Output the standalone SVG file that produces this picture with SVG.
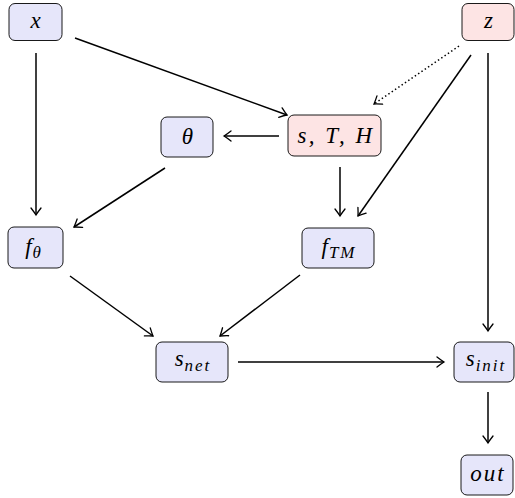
<svg xmlns="http://www.w3.org/2000/svg" width="515" height="498" viewBox="0 0 515 498">
<style>
.b{fill:#e6e6fa;stroke:#000;stroke-width:0.9}
.r{fill:#fde4e4;stroke:#000;stroke-width:0.9}
text{font-family:"Liberation Serif",serif;font-style:italic;font-size:23px;text-anchor:middle;letter-spacing:1px}
.sub{font-size:17px;letter-spacing:2px}
.c{fill:none;stroke:#000;stroke-width:1.5;marker-end:url(#a)}
.d{stroke-dasharray:1.5 2.5}
</style>
<defs>
<marker id="a" viewBox="-8 -6 10 12" markerWidth="10" markerHeight="12" refX="0" refY="0" orient="auto" markerUnits="userSpaceOnUse">
<path d="M-7,-5 Q-2.5,-1.5 0,0 Q-2.5,1.5 -7,5" fill="none" stroke="#000" stroke-width="1.3" stroke-linecap="round"/>
</marker>
</defs>
<g id="connectors">
<line class="c" x1="75" y1="38" x2="287" y2="115"/>
<line class="c" x1="36" y1="53" x2="36" y2="215"/>
<line class="c d" x1="459" y1="46" x2="374" y2="104"/>
<line class="c" x1="471" y1="55" x2="358" y2="216"/>
<line class="c" x1="488" y1="53" x2="488" y2="331"/>
<line class="c" x1="279" y1="136" x2="224" y2="136"/>
<line class="c" x1="340" y1="167" x2="340" y2="216"/>
<line class="c" x1="165" y1="168" x2="74" y2="227"/>
<line class="c" x1="70" y1="276" x2="153" y2="336"/>
<line class="c" x1="300" y1="275" x2="220" y2="336"/>
<line class="c" x1="238" y1="362" x2="444" y2="362"/>
<line class="c" x1="488" y1="392" x2="488" y2="443"/>
</g>
<g id="n-x"><rect class="b" x="9" y="3.5" width="53" height="37" rx="6"/><text x="36" y="28">x</text></g>
<g id="n-z"><rect class="r" x="462" y="3.5" width="52" height="37" rx="6"/><text x="489" y="28">z</text></g>
<g id="n-theta"><rect class="b" x="161" y="117" width="52" height="40" rx="6"/><text x="188" y="144">θ</text></g>
<g id="n-sTH"><rect class="r" x="288" y="115" width="93" height="41" rx="6"/><text x="336" y="143" style="letter-spacing:2.5px">s, T, H</text></g>
<g id="n-ftheta"><rect class="b" x="8" y="227" width="55" height="41" rx="6"/><text x="34" y="254">f<tspan class="sub" dy="4">θ</tspan></text></g>
<g id="n-fTM"><rect class="b" x="302" y="228" width="72" height="40" rx="6"/><text x="339" y="254">f<tspan class="sub" dy="4">TM</tspan></text></g>
<g id="n-snet"><rect class="b" x="156" y="342" width="72" height="40" rx="6"/><text x="193" y="366">s<tspan class="sub" dy="5">net</tspan></text></g>
<g id="n-sinit"><rect class="b" x="454" y="342" width="60" height="40" rx="6"/><text x="486" y="366">s<tspan class="sub" dy="5">init</tspan></text></g>
<g id="n-out"><rect class="b" x="461" y="455" width="52" height="40" rx="6"/><text x="488" y="481" style="letter-spacing:2px">out</text></g>
</svg>
